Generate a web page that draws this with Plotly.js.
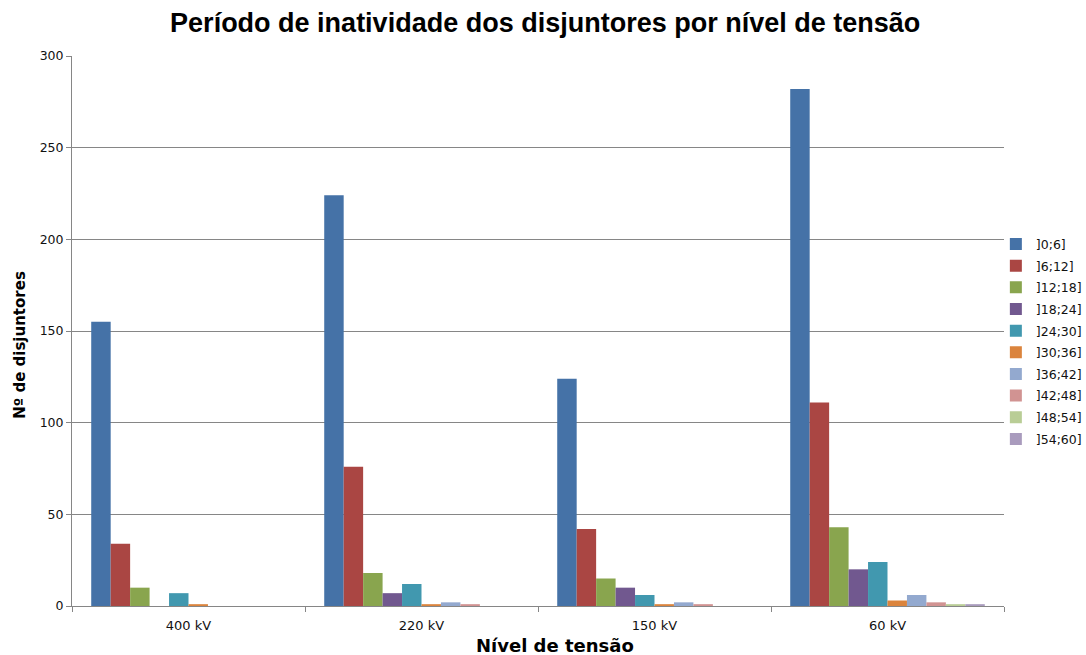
<!DOCTYPE html>
<html>
<head>
<meta charset="utf-8">
<script src="https://cdn.plot.ly/plotly-3.0.1.min.js"></script>
<style>
  html, body { margin: 0; padding: 0; background: #fff; }
  #chart { width: 1086px; height: 655px; }
</style>
</head>
<body>
<div id="chart"></div>
<script>
// Voltage levels (x categories)
const levels = ['400 kV', '220 kV', '150 kV', '60 kV'];

// Inactivity period classes (legend entries)
const periods = [']0;6]', ']6;12]', ']12;18]', ']18;24]', ']24;30]',
                 ']30;36]', ']36;42]', ']42;48]', ']48;54]', ']54;60]'];

// Number of circuit breakers per class, one value per voltage level
const p0_6   = [155, 224, 124, 282];
const p6_12  = [34, 76, 42, 111];
const p12_18 = [10, 18, 15, 43];
const p18_24 = [0, 7, 10, 20];
const p24_30 = [7, 12, 6, 24];
const p30_36 = [1, 1, 1, 3];
const p36_42 = [0, 2, 2, 6];
const p42_48 = [0, 1, 1, 2];
const p48_54 = [0, 0, 0, 1];
const p54_60 = [0, 0, 0, 1];

const seriesValues = [p0_6, p6_12, p12_18, p18_24, p24_30, p30_36, p36_42, p42_48, p48_54, p54_60];

const colors = ['#4572A7', '#AA4643', '#89A54E', '#71588F', '#4198AF',
                '#DB843D', '#93A9CF', '#D19392', '#B9CD96', '#A99BBD'];

const traces = periods.map((name, i) => ({
  type: 'bar',
  name: name,
  x: levels,
  y: seriesValues[i],
  marker: { color: colors[i], line: { width: 0 } },
  legendgroup: 'g' + i,
  hoverinfo: 'x+y+name'
}));

const titleFont = 'Liberation Sans, Arial, sans-serif';
const bodyFont = 'DejaVu Sans, Verdana, sans-serif';

const layout = {
  width: 1086,
  height: 655,
  paper_bgcolor: '#ffffff',
  plot_bgcolor: '#ffffff',
  font: { family: bodyFont, size: 12, color: '#000' },
  margin: { l: 72, r: 82, t: 56, b: 49, autoexpand: false },
  barmode: 'group',
  bargap: 0.165,
  bargroupgap: 0,
  title: {
    text: '<b>Período de inatividade dos disjuntores por nível de tensão</b>',
    font: { family: titleFont, size: 27, color: '#000' },
    x: 0.502, xanchor: 'center',
    y: 0.966, yanchor: 'middle'
  },
  xaxis: {
    showline: true, linecolor: '#868686', linewidth: 1,
    ticks: 'outside', ticklen: 5, tickcolor: '#868686',
    tickson: 'boundaries',
    ticklabelstandoff: 7,
    showgrid: false,
    tickfont: { family: bodyFont, size: 13, color: '#111' }
  },
  yaxis: {
    range: [0, 300],
    dtick: 50,
    showline: true, linecolor: '#868686', linewidth: 1,
    ticks: 'outside', ticklen: 5, tickcolor: '#868686',
    showgrid: true, gridcolor: '#868686', gridwidth: 1,
    zeroline: false,
    tickfont: { family: bodyFont, size: 12.5, color: '#111' }
  },
  // Axis titles placed as annotations so they can sit slightly off-centre
  annotations: [
    {
      text: '<b>Nível de tensão</b>',
      xref: 'paper', yref: 'paper',
      x: 0.518, y: -0.071, xanchor: 'center', yanchor: 'middle',
      showarrow: false,
      font: { family: bodyFont, size: 18, color: '#000' }
    },
    {
      text: '<b>Nº de disjuntores</b>',
      xref: 'paper', yref: 'paper',
      x: -0.056, y: 0.4745, xanchor: 'center', yanchor: 'middle',
      textangle: -90,
      showarrow: false,
      font: { family: bodyFont, size: 15, color: '#000' }
    }
  ],
  legend: {
    xref: 'container', yref: 'container',
    x: 0.917, xanchor: 'left',
    y: 0.478, yanchor: 'middle',
    traceorder: 'grouped',
    tracegroupgap: 2.4,
    font: { family: bodyFont, size: 12.5, color: '#111' },
    itemwidth: 30,
    bgcolor: 'rgba(0,0,0,0)'
  }
};

Plotly.newPlot('chart', traces, layout, { displayModeBar: false, staticPlot: true });
</script>
</body>
</html>
